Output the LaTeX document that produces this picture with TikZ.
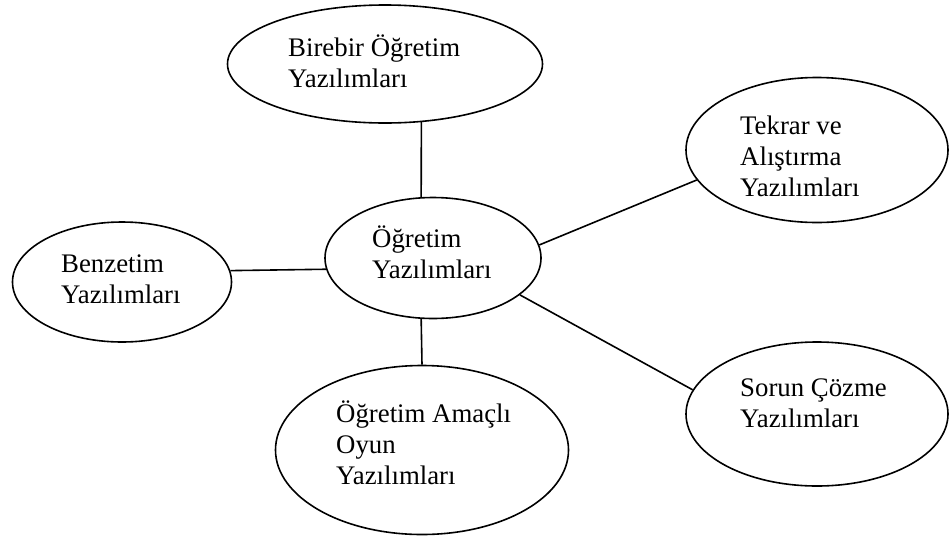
\documentclass[tikz,border=0pt]{standalone}
\usepackage{fontspec}
\setmainfont{Liberation Serif}
\usetikzlibrary{shapes.geometric}

\tikzset{
  bubble/.style={draw=black, line width=1.6pt, ellipse, inner sep=0pt},
  label text/.style={anchor=base west, inner sep=0pt,
    font=\fontsize{26.8}{31}\selectfont},
  spoke/.style={draw=black, line width=1.6pt}
}
\newcommand{\lines}[1]{\begin{tabular}[t]{@{}l@{}}#1\end{tabular}}

\begin{document}
\begin{tikzpicture}[x=1pt, y=-1pt]
  \useasboundingbox (0,0) rectangle (949,536);

  % ellipses
  \node[bubble, minimum width=315pt, minimum height=118pt] (birebir) at (385,64) {};
  \node[bubble, minimum width=216pt, minimum height=121pt] (ogretim) at (433,258) {};
  \node[bubble, minimum width=219pt, minimum height=120pt] (benzetim) at (122,282) {};
  \node[bubble, minimum width=293pt, minimum height=169pt] (oyun) at (422,450) {};
  \node[bubble, minimum width=262pt, minimum height=145pt] (tekrar) at (817,150) {};
  \node[bubble, minimum width=262pt, minimum height=144pt] (sorun) at (817,414) {};

  % texts
  \node[label text] (tBirebir) at (288,56) {\lines{Birebir Öğretim\\Yazılımları}};
  \node[label text] (tOgretim) at (372,247) {\lines{Öğretim\\Yazılımları}};
  \node[label text] (tBenzetim) at (61,272) {\lines{Benzetim\\Yazılımları}};
  \node[label text] (tOyun) at (336,422) {\lines{Öğretim Amaçlı\\Oyun\\Yazılımları}};
  \node[label text] (tTekrar) at (740,134) {\lines{Tekrar ve\\Alıştırma\\Yazılımları}};
  \node[label text] (tSorun) at (740,396) {\lines{Sorun Çözme\\Yazılımları}};

  % connectors
  \draw[spoke] (birebir.-58.6) -- (ogretim.101.1);
  \draw[spoke] (benzetim.6.2) -- (ogretim.186.3);
  \draw[spoke] (ogretim.259.6) -- (oyun.90);
  \draw[spoke] (ogretim.7.9) -- (tekrar.194.8);
  \draw[spoke] (ogretim.-23) -- (sorun.169.5);
\end{tikzpicture}
\end{document}
